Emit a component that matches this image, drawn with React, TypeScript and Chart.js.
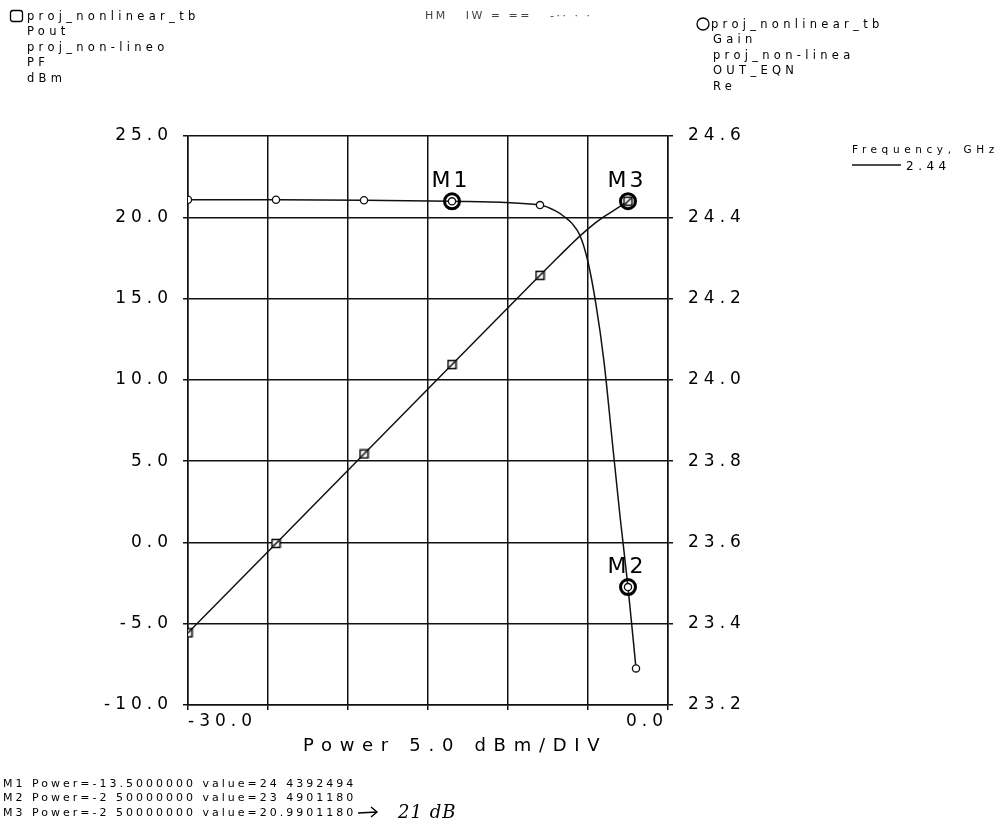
import { useEffect, useRef } from "react";
import { Chart, registerables } from "chart.js";

Chart.register(...registerables);

// Input power sweep (dBm) and the two traces read at each sweep point
const powerSweep = [-30, -24.5, -19, -13.5, -8, -7, -6.5, -6, -5.5, -5, -4.5, -4, -3.5, -3, -2.5, -2];
const gainValues = [24.443, 24.443, 24.442, 24.4392494, 24.43, 24.415, 24.402, 24.385, 24.355, 24.29, 24.185, 24.045, 23.855, 23.665, 23.490118, 23.29];
const poutValues = [-5.56, -0.06, 5.44, 10.94, 16.43, 17.415, 17.902, 18.385, 18.855, 19.29, 19.685, 20.045, 20.355, 20.665, 20.990118, null];

// Sweep points that carry a trace symbol
const gainSymbolPowers = [-30, -24.5, -19, -13.5, -8, -2.5, -2];
const poutSymbolPowers = [-30, -24.5, -19, -13.5, -8, -2.5];

// Axis ranges and steps
const powerMin = -30;
const powerMax = 0;
const powerStep = 5;
const poutMin = -10;
const poutMax = 25;
const poutStep = 5;
const gainMin = 23.2;
const gainMax = 24.6;
const gainStep = 0.2;
const powerTickLabels: Record<string, string> = { "-30": "-30.0", "0": "0.0" };

// Markers
const markerNames = ["M1", "M2", "M3"];
const markerPowers = [-13.5, -2.5, -2.5];
const markerValues = [24.4392494, 23.490118, 20.990118];
const markerAxes = ["y1", "y1", "y"];

// Header / footer text
const leftTraceInfo = ["proj_nonlinear_tb", "Pout", "proj_non-lineo", "PF", "dBm"];
const rightTraceInfo = ["proj_nonlinear_tb", "Gain", "proj_non-linea", "OUT_EQN", "Re"];
const sweepLegendTitle = "Frequency, GHz";
const sweepLegendValue = "2.44";
const xAxisTitle = "Power 5.0 dBm/DIV";
const pageTitle = "HM   IW = ==   -·· · ·";
const markerReadout = [
  "M1 Power=-13.5000000 value=24 4392494",
  "M2 Power=-2 50000000 value=23 4901180",
  "M3 Power=-2 50000000 value=20.9901180",
];
const handNote = "21 dB";

const FONT = "'DejaVu Sans', sans-serif";
const INK = "#111";

function makeSquareSymbol(): HTMLCanvasElement {
  const c = document.createElement("canvas");
  c.width = 11;
  c.height = 11;
  const g = c.getContext("2d")!;
  g.fillStyle = "#fff";
  g.fillRect(1, 1, 9, 9);
  g.strokeStyle = "#000";
  g.lineWidth = 1.5;
  g.strokeRect(1.5, 1.5, 8, 8);
  g.beginPath();
  g.moveTo(2.5, 8.5);
  g.lineTo(8.5, 2.5);
  g.stroke();
  return c;
}

function drawText(
  ctx: CanvasRenderingContext2D,
  str: string,
  x: number,
  y: number,
  size: number,
  spacing: number,
  align: CanvasTextAlign = "left",
  family: string = FONT,
  color: string = "#000",
  style: string = ""
) {
  ctx.save();
  ctx.font = `${style} ${size}px ${family}`;
  (ctx as any).letterSpacing = `${spacing}px`;
  ctx.textAlign = align;
  ctx.textBaseline = "alphabetic";
  ctx.fillStyle = color;
  ctx.fillText(str, x, y);
  ctx.restore();
}

const decorPlugin = {
  id: "decor",
  beforeDraw(chart: any) {
    (chart.ctx as any).letterSpacing = "5px";
  },
  afterDatasetsDraw(chart: any) {
    const ctx: CanvasRenderingContext2D = chart.ctx;
    const xs = chart.scales.x;
    ctx.save();
    (ctx as any).letterSpacing = "0px";
    markerNames.forEach((name, i) => {
      const ys = chart.scales[markerAxes[i]];
      const px = xs.getPixelForValue(markerPowers[i]);
      const py = ys.getPixelForValue(markerValues[i]);
      ctx.beginPath();
      ctx.arc(px, py, 7.5, 0, Math.PI * 2);
      ctx.strokeStyle = "#000";
      ctx.lineWidth = 3;
      ctx.stroke();
      drawText(ctx, name, px - 1, py - 14, 22, 3, "center");
    });
    ctx.restore();
  },
  afterDraw(chart: any) {
    const ctx: CanvasRenderingContext2D = chart.ctx;
    (ctx as any).letterSpacing = "0px";

    // left trace info with square key
    ctx.save();
    ctx.strokeStyle = "#000";
    ctx.lineWidth = 1.3;
    ctx.beginPath();
    (ctx as any).roundRect(10.5, 10.5, 12, 11, 2.5);
    ctx.stroke();
    ctx.restore();
    const leftBase = [20, 35, 51, 66, 82];
    leftTraceInfo.forEach((t, i) => drawText(ctx, t, 27, leftBase[i], 11.5, 4.3));

    // right trace info with circle key
    ctx.save();
    ctx.strokeStyle = "#000";
    ctx.lineWidth = 1.3;
    ctx.beginPath();
    ctx.arc(703, 24, 6, 0, Math.PI * 2);
    ctx.stroke();
    ctx.restore();
    const rightBase = [28, 43, 59, 74, 90];
    rightTraceInfo.forEach((t, i) => drawText(ctx, t, i === 0 ? 711 : 713, rightBase[i], 11.5, 4.3));

    // page title
    drawText(ctx, pageTitle, 425, 19, 11, 2.5, "left", FONT, "#444");

    // sweep legend
    drawText(ctx, sweepLegendTitle, 852, 153, 10.5, 4.6);
    ctx.save();
    ctx.strokeStyle = INK;
    ctx.lineWidth = 1.3;
    ctx.beginPath();
    ctx.moveTo(852, 165);
    ctx.lineTo(901, 165);
    ctx.stroke();
    ctx.restore();
    drawText(ctx, sweepLegendValue, 906, 170, 12, 4.5);

    // x-axis title
    drawText(ctx, xAxisTitle, 303, 751, 18, 7.7);

    // marker readout
    const readBase = [787, 801, 816];
    markerReadout.forEach((t, i) => drawText(ctx, t, 3, readBase[i], 11, 3));

    // hand-written note
    ctx.save();
    ctx.strokeStyle = "#000";
    ctx.lineWidth = 1.4;
    ctx.beginPath();
    ctx.moveTo(358, 813);
    ctx.lineTo(377, 812);
    ctx.moveTo(371, 807);
    ctx.lineTo(377, 812);
    ctx.lineTo(371, 817);
    ctx.stroke();
    ctx.restore();
    drawText(ctx, handNote, 398, 818, 18, 1, "left", "'DejaVu Serif', serif", "#000", "italic");
  },
};

export default function App() {
  const canvasRef = useRef<HTMLCanvasElement>(null);

  useEffect(() => {
    const canvas = canvasRef.current;
    if (!canvas) return;

    const poutData = powerSweep
      .map((p, i) => ({ x: p, y: poutValues[i] }))
      .filter((d) => d.y !== null);
    const gainData = powerSweep.map((p, i) => ({ x: p, y: gainValues[i] }));
    const squareSymbol = makeSquareSymbol();

    const tickFont = { family: FONT, size: 17 };

    const chart = new Chart(canvas, {
      type: "line",
      data: {
        datasets: [
          {
            label: "Pout",
            data: poutData as any,
            yAxisID: "y",
            borderColor: INK,
            borderWidth: 1.5,
            tension: 0,
            pointStyle: squareSymbol as any,
            pointRadius: (c: any) => (c.raw && poutSymbolPowers.includes(c.raw.x) ? 4 : 0),
            clip: 0 as any,
          },
          {
            label: "Gain",
            data: gainData as any,
            yAxisID: "y1",
            borderColor: INK,
            borderWidth: 1.5,
            cubicInterpolationMode: "monotone",
            pointStyle: "circle",
            pointRadius: (c: any) => (c.raw && gainSymbolPowers.includes(c.raw.x) ? 3.6 : 0),
            pointBackgroundColor: "#fff",
            pointBorderColor: INK,
            pointBorderWidth: 1.3,
            clip: 0 as any,
          },
        ],
      },
      options: {
        responsive: false,
        animation: false,
        events: [],
        layout: { padding: { top: 136, left: 0, right: 0, bottom: 0 } },
        plugins: {
          legend: { display: false },
          tooltip: { enabled: false },
        },
        scales: {
          x: {
            type: "linear",
            position: "bottom",
            min: powerMin,
            max: powerMax,
            ticks: {
              stepSize: powerStep,
              autoSkip: false,
              maxRotation: 0,
              align: "inner",
              padding: 1,
              color: "#000",
              font: tickFont,
              callback: (v: any) => powerTickLabels[String(v)] ?? "",
            },
            grid: { color: INK, lineWidth: 1.5, tickLength: 5 },
            border: { color: INK, width: 1.5 },
            afterFit: (s: any) => {
              s.height = 127;
            },
          },
          y: {
            type: "linear",
            position: "left",
            min: poutMin,
            max: poutMax,
            ticks: {
              stepSize: poutStep,
              padding: 10,
              color: "#000",
              font: tickFont,
              callback: (v: any) => Number(v).toFixed(1),
            },
            grid: { color: INK, lineWidth: 1.5, tickLength: 5 },
            border: { color: INK, width: 1.5 },
            afterFit: (s: any) => {
              s.width = 188;
            },
          },
          y1: {
            type: "linear",
            position: "right",
            min: gainMin,
            max: gainMax,
            ticks: {
              stepSize: gainStep,
              padding: 15,
              color: "#000",
              font: tickFont,
              callback: (v: any) => Number(v).toFixed(1),
            },
            grid: { drawOnChartArea: false, color: INK, lineWidth: 1.5, tickLength: 5 },
            border: { color: INK, width: 1.5 },
            afterFit: (s: any) => {
              s.width = 331;
            },
          },
        },
      },
      plugins: [decorPlugin],
    });

    return () => chart.destroy();
  }, []);

  return (
    <div
      style={{
        position: "fixed",
        left: 0,
        top: 0,
        width: 999,
        height: 832,
        background: "#fff",
        overflow: "hidden",
      }}
    >
      <canvas ref={canvasRef} width={999} height={832} style={{ display: "block" }} />
    </div>
  );
}
